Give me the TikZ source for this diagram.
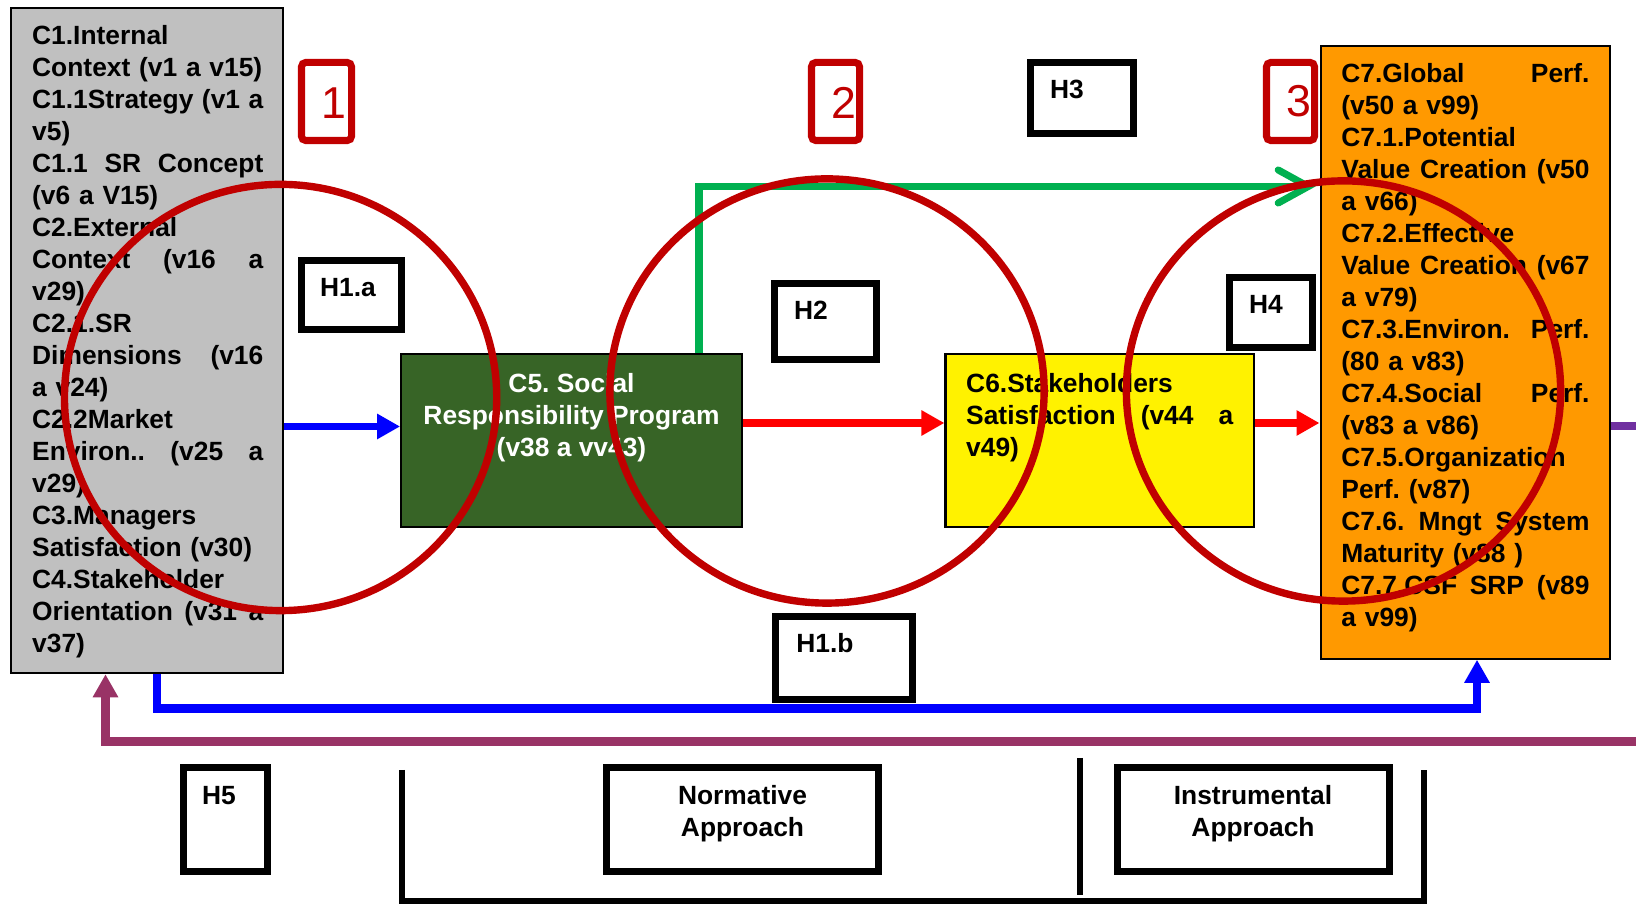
\documentclass[tikz,border=0pt]{standalone}
\usepackage{fontspec}
\setmainfont{Liberation Sans}
\usepackage{xcolor}
\usetikzlibrary{arrows.meta,positioning}
\definecolor{numred}{HTML}{C00000}
\definecolor{boxgray}{HTML}{C0C0C0}
\definecolor{boxgreen}{RGB}{55,100,38}
\definecolor{boxorange}{HTML}{FF9900}
\definecolor{linegreen}{HTML}{00B050}
\definecolor{linemaroon}{HTML}{993366}
\definecolor{linepurple}{HTML}{7030A0}
\newcommand{\jline}[1]{{\spaceskip=0.278em plus 1fil\xspaceskip=0.278em plus 1fil\makebox[\linewidth][s]{#1}}}
\frenchspacing

\begin{document}
\begin{tikzpicture}[x=0.01cm,y=-0.01cm,
    txt/.style={font=\fontsize{7.5}{9.1}\selectfont\bfseries, inner sep=0pt},
    bigbox/.style={draw=black, line width=0.6pt, inner sep=0pt},
    hbox/.style={draw=black, line width=2pt, inner sep=0pt},
    numbox/.style={draw=numred, line width=2pt, rounded corners=1.2pt, inner sep=0pt},
    num/.style={text=numred, font=\fontsize{12.7}{14}\selectfont, inner sep=0pt},
    ring/.style={draw=numred, line width=2.1pt},
    tip/.style={-{Triangle[length=0.23cm,width=0.24cm]}},
    blueline/.style={draw=blue, line width=2.1pt},
    redline/.style={draw=red, line width=2.1pt},
    bracket/.style={draw=black, line width=1.7pt}]
  \useasboundingbox (0,0) rectangle (1636,904);

  \node[bigbox, fill=boxgray, minimum width=2.715cm, minimum height=6.65cm] (c1) at (147.25,340.5) {};
  \node[txt, text width=2.31cm, align=left, anchor=north west] (c1txt) at (31.5,25) {%
    C1.Internal\\
    Context (v1 a v15)\\
    \jline{C1.1Strategy (v1 a}\\
    v5)\\
    \jline{C1.1 SR Concept}\\
    (v6 a V15)\\
    C2.External\\
    \jline{Context (v16 a}\\
    v29)\\
    C2.1.SR\\
    \jline{Dimensions (v16}\\
    a v24)\\
    C2.2Market\\
    \jline{Environ.. (v25 a}\\
    v29)\\
    C3.Managers\\
    Satisfaction (v30)\\
    C4.Stakeholder\\
    \jline{Orientation (v31 a}\\
    v37)};

  \node[bigbox, fill=boxgreen, minimum width=3.405cm, minimum height=1.727cm] (c5) at (571.5,440.3) {};
  \node[txt, text=white, align=center, anchor=north] (c5txt) at (571.5,373)
    {C5. Social\\Responsibility Program\\(v38 a vv43)};

  \node[bigbox, fill=yellow, minimum width=3.08cm, minimum height=1.727cm] (c6) at (1099.6,440.3) {};
  \node[txt, text width=2.67cm, align=left, anchor=north west] (c6txt) at (965.5,373)
    {C6.Stakeholders\\\jline{Satisfaction (v44 a}\\v49)};

  \node[bigbox, fill=boxorange, minimum width=2.893cm, minimum height=6.123cm] (c7) at (1465.3,352.4) {};
  \node[txt, text width=2.48cm, align=left, anchor=north west] (c7txt) at (1340.7,62.7) {%
    \jline{C7.Global Perf.}\\
    (v50 a v99)\\
    C7.1.Potential\\
    \jline{Value Creation (v50}\\
    a v66)\\
    C7.2.Effective\\
    \jline{Value Creation (v67}\\
    a v79)\\
    \jline{C7.3.Environ. Perf.}\\
    (80 a v83)\\
    \jline{C7.4.Social Perf.}\\
    (v83 a v86)\\
    C7.5.Organization\\
    Perf. (v87)\\
    \jline{C7.6. Mngt System}\\
    Maturity (v88 )\\
    \jline{C7.7.CSF SRP (v89}\\
    a v99)};

  \node[hbox, minimum width=1.00cm, minimum height=0.69cm] (h1a) at (351.5,295) {};
  \node[txt] (h1alab) at (348,288) {H1.a};
  \node[hbox, minimum width=1.02cm, minimum height=0.76cm] (h2) at (825.5,321.5) {};
  \node[txt] (h2lab) at (811,310) {H2};
  \node[hbox, minimum width=1.02cm, minimum height=0.71cm] (h3) at (1082,98) {};
  \node[txt] (h3lab) at (1067,89) {H3};
  \node[hbox, minimum width=0.83cm, minimum height=0.70cm] (h4) at (1271,312.5) {};
  \node[txt] (h4lab) at (1266,304) {H4};
  \node[hbox, minimum width=1.37cm, minimum height=0.83cm] (h1b) at (844,658) {};
  \node[txt] (h1blab) at (825,643) {H1.b};
  \node[hbox, minimum width=0.84cm, minimum height=1.04cm] (h5) at (225.5,819.5) {};
  \node[txt] (h5lab) at (219,795.5) {H5};
  \node[hbox, minimum width=2.72cm, minimum height=1.04cm] (norm) at (742.5,819.5) {};
  \node[txt, align=center, anchor=north] (normlab) at (742.5,785) {Normative\\Approach};
  \node[hbox, minimum width=2.72cm, minimum height=1.04cm] (instr) at (1253.5,819.5) {};
  \node[txt, align=center, anchor=north] (instrlab) at (1253,785) {Instrumental\\Approach};

  \node[numbox, minimum width=0.50cm, minimum height=0.78cm] (n1) at (326.5,101.5) {};
  \node[num] (n1lab) at (333.5,103) {1};
  \node[numbox, minimum width=0.48cm, minimum height=0.78cm] (n2) at (835.5,101.5) {};
  \node[num] (n2lab) at (844,103) {2};
  \node[numbox, minimum width=0.48cm, minimum height=0.78cm] (n3) at (1290.5,101.5) {};
  \node[num] (n3lab) at (1298.5,101) {3};

  \coordinate (ya) at (0,426.5);
  \coordinate (yr) at (0,423);
  \draw[blueline, tip] (c1.east |- ya) -- (c5.west |- ya);
  \draw[redline, tip] (c5.east |- yr) -- (c6.west |- yr);
  \draw[redline, tip] (c6.east |- yr) -- (c7.west |- yr);

  \coordinate (gc) at (699,186.5);
  \draw[linegreen, line width=2pt, -{Straight Barb[length=0.3cm,width=0.33cm,line cap=round]}, shorten >=0.04cm]
    (c5.north -| gc) -- (gc) -- (c7.west |- gc);

  \coordinate (bl) at (157,708.5);
  \coordinate (br) at (1477,708.5);
  \draw[blueline, line width=2.4pt, tip] (c1.south -| bl) -- (bl) -- (br) -- (c7.south -| br);

  \coordinate (ml) at (105.5,741.5);
  \coordinate (mr) at (1640,741.5);
  \draw[linemaroon, line width=2.5pt, tip] (mr) -- (ml) -- (c1.south -| ml);

  \coordinate (pr) at (1640,426);
  \draw[linepurple, line width=2.3pt] (c7.east |- pr) -- (pr);

  \draw[bracket] (402,770) -- (402,901) -- (1424,901) -- (1424,770);
  \draw[bracket] (1080,758) -- (1080,895);

  \draw[ring] (280.6,397.5) ellipse [x radius=2.16cm, y radius=2.13cm];
  \draw[ring] (827,391) ellipse [x radius=2.17cm, y radius=2.12cm];
  \draw[ring] (1343.5,391) ellipse [x radius=2.17cm, y radius=2.10cm];
\end{tikzpicture}
\end{document}
